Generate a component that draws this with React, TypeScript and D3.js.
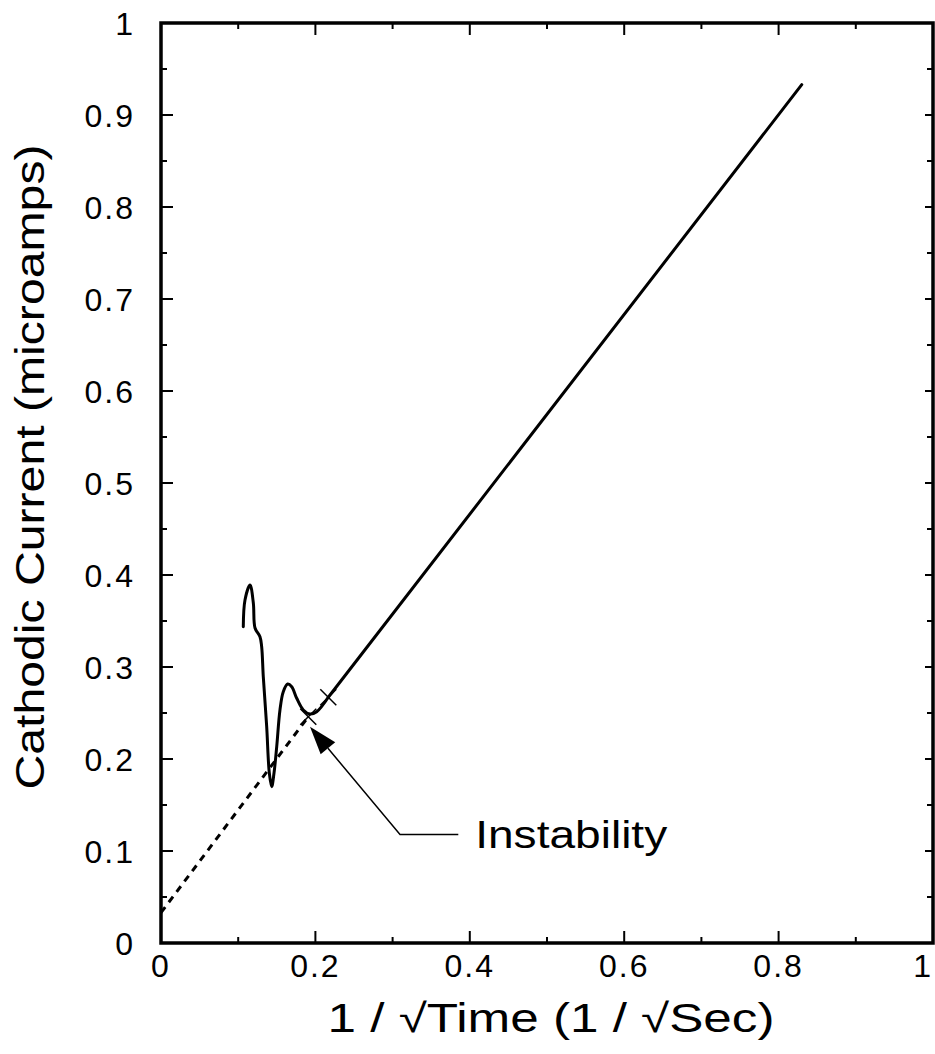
import React from "react";
import * as d3 from "d3";

// ---- data ----
const curveX = [0.1066, 0.1088, 0.1153, 0.1196, 0.1218, 0.1282, 0.1304, 0.1325, 0.1369, 0.1403, 0.1434, 0.1464, 0.1499, 0.1541, 0.1584, 0.1641, 0.1693, 0.1758, 0.1843, 0.193, 0.2017, 0.2167];
const curveY = [0.3438, 0.3728, 0.3891, 0.3696, 0.3424, 0.3329, 0.322, 0.2895, 0.2351, 0.1848, 0.1699, 0.1848, 0.2134, 0.2533, 0.2732, 0.2815, 0.2786, 0.266, 0.2533, 0.2489, 0.2514, 0.2671];
const lineX = [0.2167, 0.83];
const lineY = [0.2671, 0.933];
const dashX = [0, 0.1908];
const dashY = [0.033, 0.246];
const markerX = [0.1908, 0.2167];
const markerY = [0.246, 0.2671];

const xTickLabels = ["0", "0.2", "0.4", "0.6", "0.8", "1"];
const xTickValues = [0, 0.2, 0.4, 0.6, 0.8, 1];
const yTickLabels = ["0", "0.1", "0.2", "0.3", "0.4", "0.5", "0.6", "0.7", "0.8", "0.9", "1"];
const yTickValues = [0, 0.1, 0.2, 0.3, 0.4, 0.5, 0.6, 0.7, 0.8, 0.9, 1];
const xMinorTicks = [0.1, 0.3, 0.5, 0.7, 0.9];
const yMinorTicks = [0.05, 0.15, 0.25, 0.35, 0.45, 0.55, 0.65, 0.75, 0.85, 0.95];

// annotation (data units)
const annotText = "Instability";
const arrowTip = [0.193, 0.235];
const leaderCorner = [0.3096, 0.118];
const leaderEnd = [0.3851, 0.118];
const annotTextPos = [0.407, 0.103];

const xTitle = "1 / \u221ATime (1 / \u221ASec)";
const yTitle = "Cathodic Current (microamps)";

export default function App() {
  const W = 935, H = 1054;
  const left = 161, right = 933, top = 23, bottom = 943;
  const x = d3.scaleLinear().domain([0, 1]).range([left, right]);
  const y = d3.scaleLinear().domain([0, 1]).range([bottom, top]);
  const font = "'Liberation Sans', Arial, Helvetica, sans-serif";

  const curvePts = curveX.map((v, i) => [v, curveY[i]] as [number, number]);
  const linePts = lineX.map((v, i) => [v, lineY[i]] as [number, number]);
  const dashPts = dashX.map((v, i) => [v, dashY[i]] as [number, number]);

  const smooth = d3.line<[number, number]>().x(d => x(d[0])).y(d => y(d[1])).curve(d3.curveCatmullRom.alpha(0.5));
  const straight = d3.line<[number, number]>().x(d => x(d[0])).y(d => y(d[1]));

  // arrow geometry
  const tx = x(arrowTip[0]), ty = y(arrowTip[1]);
  const cx = x(leaderCorner[0]), cy = y(leaderCorner[1]);
  const dx = cx - tx, dy = cy - ty;
  const len = Math.hypot(dx, dy);
  const ux = dx / len, uy = dy / len;
  const aLen = 28, aHalf = 9.5;
  const bx = tx + ux * aLen, by = ty + uy * aLen;
  const tri = [
    [tx, ty],
    [bx - uy * aHalf, by + ux * aHalf],
    [bx + uy * aHalf, by - ux * aHalf],
  ];

  const majorLen = 12, minorLen = 6;

  return (
    <svg width={W} height={H} style={{ position: "absolute", left: 0, top: 0, background: "#fff" }} fontFamily={font}>
      <rect x={0} y={0} width={W} height={H} fill="#fff" />
      {/* ticks */}
      <g stroke="#000" strokeWidth={2}>
        {yTickValues.map((v, i) => (
          <g key={"yt" + i}>
            <line x1={left} x2={left + majorLen} y1={y(v)} y2={y(v)} />
            <line x1={right} x2={right - minorLen - 2} y1={y(v)} y2={y(v)} />
          </g>
        ))}
        {yMinorTicks.map((v, i) => (
          <g key={"ym" + i}>
            <line x1={left} x2={left + minorLen} y1={y(v)} y2={y(v)} />
            <line x1={right} x2={right - minorLen} y1={y(v)} y2={y(v)} />
          </g>
        ))}
        {xTickValues.map((v, i) => (
          <g key={"xt" + i}>
            <line x1={x(v)} x2={x(v)} y1={bottom} y2={bottom - majorLen} />
            <line x1={x(v)} x2={x(v)} y1={top} y2={top + majorLen} />
          </g>
        ))}
        {xMinorTicks.map((v, i) => (
          <g key={"xm" + i}>
            <line x1={x(v)} x2={x(v)} y1={bottom} y2={bottom - minorLen} />
            <line x1={x(v)} x2={x(v)} y1={top} y2={top + minorLen} />
          </g>
        ))}
      </g>
      {/* frame */}
      <rect x={left} y={top} width={right - left} height={bottom - top} fill="none" stroke="#000" strokeWidth={3.5} />

      {/* tick labels */}
      <g fontSize={32} fill="#000" letterSpacing={2}>
        {yTickValues.map((v, i) => (
          <text key={"yl" + i} x={135} y={y(v)} dy="0.36em" textAnchor="end">{yTickLabels[i]}</text>
        ))}
        {xTickValues.map((v, i) => {
          const last = i === xTickValues.length - 1;
          return (
            <text key={"xl" + i} x={last ? W - 2 : x(v)} y={977} textAnchor={last ? "end" : "middle"}>{xTickLabels[i]}</text>
          );
        })}
      </g>

      {/* axis titles */}
      <text x={551} y={1032} textAnchor="middle" fontSize={40} textLength={447} lengthAdjust="spacingAndGlyphs">{xTitle}</text>
      <text transform={`translate(44,${467}) rotate(-90)`} textAnchor="middle" fontSize={40} textLength={645} lengthAdjust="spacingAndGlyphs">{yTitle}</text>

      {/* data */}
      <path d={straight(dashPts) || ""} fill="none" stroke="#000" strokeWidth={3} strokeDasharray="7,6" />
      <path d={smooth(curvePts) || ""} fill="none" stroke="#000" strokeWidth={3} strokeLinejoin="round" strokeLinecap="round" />
      <path d={straight(linePts) || ""} fill="none" stroke="#000" strokeWidth={3} strokeLinecap="round" />
      {markerX.map((v, i) => (
        <g key={"mk" + i} stroke="#000" strokeWidth={1.5}>
          <line x1={x(v) - 8} y1={y(markerY[i]) - 8} x2={x(v) + 8} y2={y(markerY[i]) + 8} />
          <line x1={x(v) - 8} y1={y(markerY[i]) + 8} x2={x(v) + 8} y2={y(markerY[i]) - 8} />
        </g>
      ))}

      {/* annotation */}
      <polygon points={tri.map(p => p.join(",")).join(" ")} fill="#000" />
      <polyline points={`${bx},${by} ${cx},${cy} ${x(leaderEnd[0])},${y(leaderEnd[1])}`} fill="none" stroke="#000" strokeWidth={1.5} />
      <text x={x(annotTextPos[0])} y={y(annotTextPos[1])} fontSize={38} textLength={192} lengthAdjust="spacingAndGlyphs">{annotText}</text>
    </svg>
  );
}
